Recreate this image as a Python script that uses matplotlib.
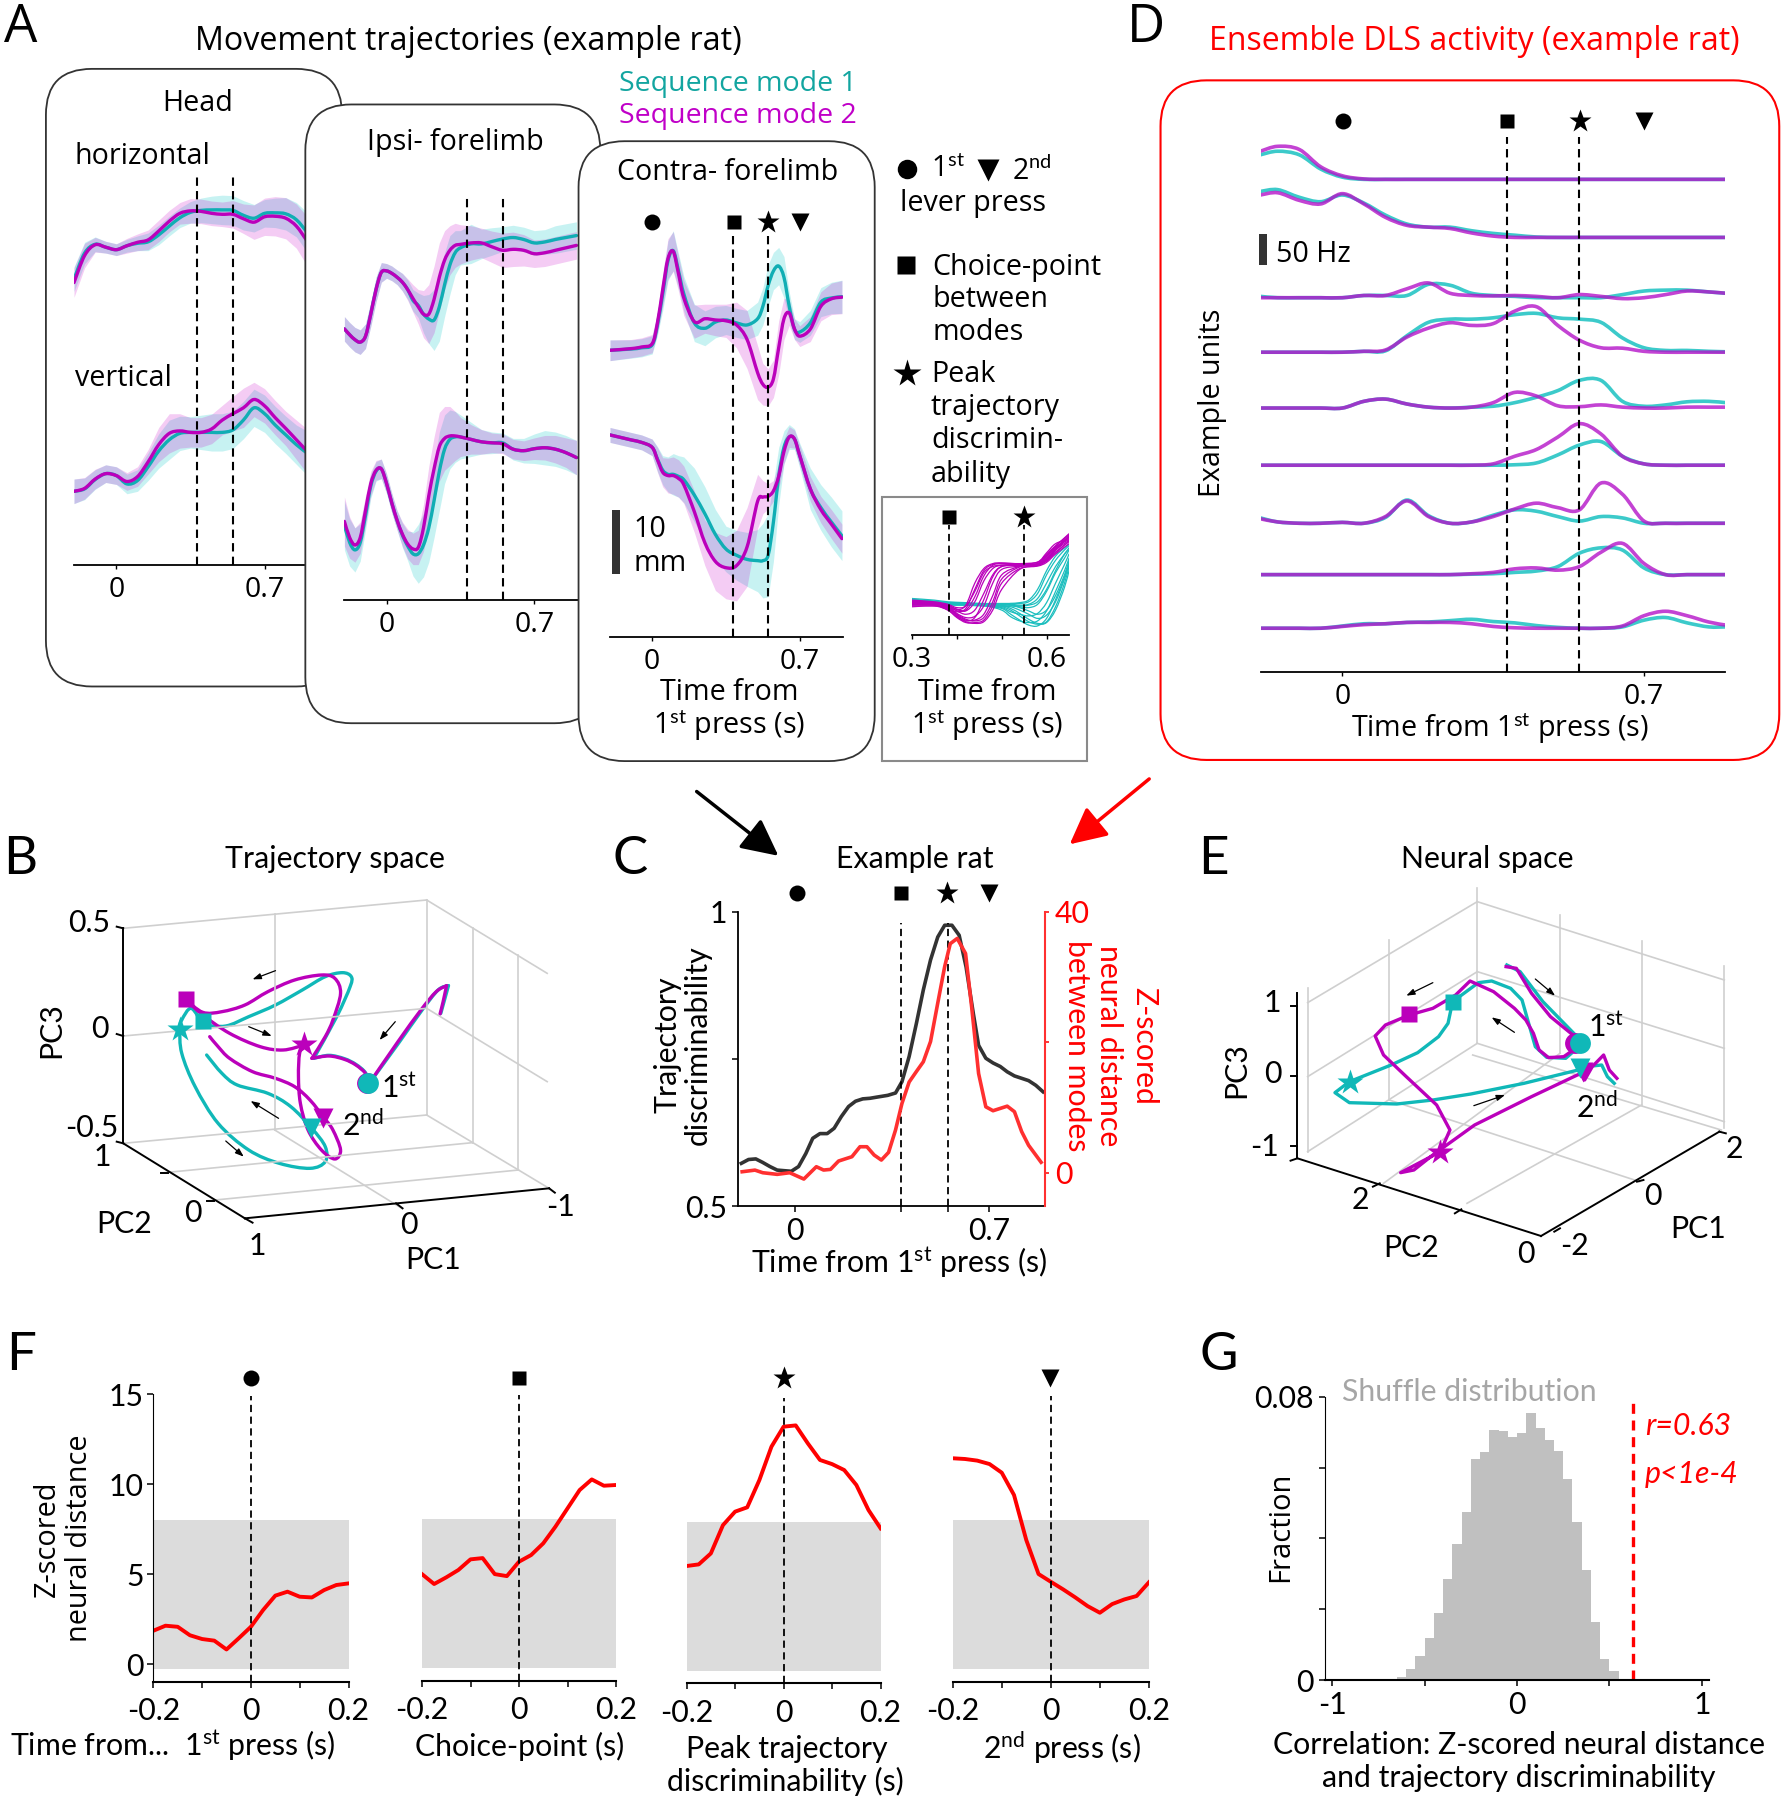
# multi-panel figure: trajectories, unit activity, discriminability
import matplotlib
matplotlib.use("Agg")
import numpy as np
import matplotlib.pyplot as plt
from matplotlib.patches import FancyBboxPatch, Rectangle, FancyArrowPatch, PathPatch
from matplotlib.path import Path

W, H = 1785, 1800
CYAN = '#10AEB4'
MAG = '#BB00BB'
BAND_C = '#00C8C8'
BAND_M = '#C800C8'

plt.rcParams['font.family'] = ['Lato', 'DejaVu Sans']
plt.rcParams['mathtext.fontset'] = 'custom'
plt.rcParams['mathtext.rm'] = 'Lato'
plt.rcParams['mathtext.it'] = 'Lato:italic'

# event times (s from 1st press)
press2_t = 0.7
choice_t = 0.383
peak_t = 0.55

# ---- panel A: movement traces, heights in arbitrary units above the axis
t_grid = [-0.2, -0.15, -0.1, -0.05, 0, 0.05, 0.1, 0.15, 0.2, 0.25, 0.3, 0.35, 0.4, 0.45, 0.5, 0.55, 0.6,
          0.65, 0.7, 0.75, 0.8, 0.85, 0.9]
head_h_m = [575, 630, 652, 647, 642, 650, 657, 662, 680, 700, 716, 721, 720, 716, 714, 714, 705, 698, 709, 710, 706, 690, 660]
head_h_c = [582, 635, 653, 647, 642, 650, 655, 658, 672, 690, 707, 718, 722, 723, 723, 722, 712, 706, 716, 717, 715, 703, 678]
head_h_sd_m = [30, 25, 15, 12, 12, 15, 17, 20, 22, 22, 22, 25, 25, 25, 25, 28, 30, 35, 38, 40, 42, 45, 50]
head_h_sd_c = [25, 22, 15, 12, 12, 13, 15, 18, 20, 20, 20, 22, 25, 28, 30, 30, 30, 28, 28, 30, 33, 35, 40]
head_v_m = [150, 156, 175, 186, 182, 170, 180, 210, 245, 268, 273, 270, 270, 277, 295, 308, 320, 337, 324, 300, 278, 255, 232]
head_v_c = [150, 155, 174, 186, 182, 165, 172, 200, 232, 255, 268, 270, 270, 270, 270, 275, 295, 320, 308, 285, 265, 245, 228]
head_v_sd_m = [25, 22, 20, 18, 18, 18, 20, 25, 35, 40, 35, 30, 30, 30, 30, 35, 40, 35, 35, 35, 35, 40, 45]
head_v_sd_c = [25, 22, 20, 18, 18, 20, 22, 28, 35, 40, 35, 32, 35, 38, 38, 38, 38, 38, 38, 38, 38, 40, 45]

t_ipsi = [-0.2, -0.175, -0.15, -0.125, -0.1, -0.075, -0.05, -0.025, 0, 0.025, 0.05, 0.075, 0.1, 0.125, 0.15, 0.175,
          0.2, 0.225, 0.25, 0.275, 0.3, 0.325, 0.35, 0.4, 0.45, 0.5, 0.55, 0.6, 0.65, 0.7, 0.75, 0.8, 0.85, 0.9]
ipsi_h_m = [552, 540, 530, 525, 537, 582, 632, 667, 670, 665, 657, 647, 632, 614, 597, 582, 582, 612, 657, 692, 712, 722, 724,
            727, 727, 719, 712, 714, 712, 705, 707, 712, 717, 722]
ipsi_h_c = [552, 540, 530, 525, 537, 582, 632, 667, 670, 665, 657, 647, 632, 610, 600, 582, 572, 570, 597, 642, 682, 707, 717,
            725, 725, 730, 735, 738, 734, 727, 729, 734, 738, 742]
ipsi_h_sd_m = [25, 25, 25, 25, 25, 25, 25, 20, 15, 15, 15, 18, 22, 28, 35, 48, 60, 68, 70, 60, 50, 45, 40,
               35, 30, 32, 35, 35, 32, 28, 28, 28, 28, 28]
ipsi_h_sd_c = [25, 25, 25, 25, 25, 25, 25, 20, 15, 15, 15, 18, 20, 22, 25, 38, 50, 62, 70, 65, 60, 45, 35,
               40, 30, 28, 25, 25, 25, 25, 25, 28, 28, 28]
ipsi_v_m = [160, 127, 112, 127, 182, 237, 264, 267, 237, 197, 162, 134, 114, 104, 107, 147, 212, 267, 312, 329, 334, 334, 332,
            327, 322, 320, 318, 307, 304, 308, 310, 307, 300, 290]
ipsi_v_c = [152, 117, 102, 117, 172, 232, 262, 267, 237, 197, 162, 132, 110, 94, 94, 112, 147, 202, 262, 307, 327, 332, 332,
            327, 322, 320, 320, 307, 304, 308, 310, 307, 300, 290]
ipsi_v_sd_m = [50, 42, 35, 32, 30, 25, 20, 20, 20, 20, 20, 25, 30, 32, 35, 48, 60, 65, 70, 65, 60, 50, 40,
               30, 25, 20, 20, 20, 20, 22, 25, 28, 30, 35]
ipsi_v_sd_c = [50, 48, 45, 38, 30, 25, 20, 20, 20, 20, 20, 25, 30, 45, 60, 65, 70, 75, 80, 70, 60, 52, 45,
               35, 25, 22, 20, 22, 25, 30, 35, 35, 35, 35]

t_contra = [-0.2, -0.1, -0.05, 0, 0.025, 0.05, 0.075, 0.1, 0.125, 0.15, 0.2, 0.25, 0.3, 0.35, 0.4, 0.45, 0.5,
            0.525, 0.55, 0.575, 0.6, 0.625, 0.65, 0.675, 0.7, 0.75, 0.8, 0.85, 0.9]
contra_h_m = [691, 695, 699, 707, 757, 837, 912, 929, 875, 817, 760, 767, 764, 762, 752, 717, 637, 609, 602, 622, 697, 767, 781, 742, 725, 742, 797, 815, 819]
contra_h_c = [691, 694, 697, 704, 752, 827, 907, 931, 882, 827, 757, 744, 759, 764, 757, 752, 767, 797, 847, 882, 894, 867, 797, 742, 735, 757, 807, 817, 820]
contra_h_sd_m = [25, 22, 22, 22, 25, 40, 48, 48, 42, 42, 40, 35, 38, 40, 55, 70, 65, 50, 45, 45, 65, 50, 30, 25, 25, 30, 35, 38, 40]
contra_h_sd_c = [25, 22, 22, 22, 25, 40, 48, 48, 42, 42, 45, 42, 38, 35, 35, 35, 40, 45, 50, 45, 45, 50, 35, 25, 25, 30, 35, 38, 40]
contra_v_m = [487, 475, 469, 457, 427, 397, 389, 389, 382, 367, 302, 227, 182, 167, 172, 217, 327, 337, 339, 352, 387, 447, 482, 477, 437, 357, 307, 272, 237]
contra_v_c = [487, 475, 469, 457, 429, 402, 392, 392, 387, 379, 342, 297, 247, 212, 197, 187, 184, 184, 197, 277, 387, 457, 482, 477, 437, 357, 312, 277, 244]
contra_v_sd_m = [18, 18, 18, 20, 30, 35, 42, 45, 45, 45, 50, 55, 70, 75, 85, 95, 65, 40, 30, 25, 30, 30, 25, 22, 25, 30, 32, 35, 35]
contra_v_sd_c = [18, 18, 18, 20, 30, 35, 42, 50, 50, 55, 65, 65, 60, 55, 60, 65, 75, 90, 100, 95, 70, 40, 30, 25, 30, 50, 55, 60, 60]

# inset: single trials around the choice point
t_trial_m = [0.30, 0.35, 0.38, 0.40, 0.42, 0.44, 0.46, 0.48, 0.50, 0.54, 0.58, 0.60, 0.62, 0.65]
trials_m = [
    [84, 80, 74, 66, 70, 105, 150, 165, 168, 170, 172, 190, 210, 238],
    [82, 78, 72, 62, 58, 80, 130, 160, 168, 168, 170, 185, 208, 235],
    [80, 78, 70, 58, 50, 60, 100, 145, 165, 168, 172, 188, 212, 230],
    [78, 76, 68, 52, 42, 45, 70, 125, 158, 166, 170, 182, 205, 228],
    [76, 74, 64, 48, 36, 36, 50, 95, 145, 165, 168, 180, 200, 225],
    [74, 72, 60, 42, 30, 30, 36, 70, 125, 160, 166, 175, 195, 220],
    [72, 72, 62, 56, 64, 110, 155, 170, 172, 172, 175, 195, 215, 242],
    [70, 70, 66, 60, 72, 125, 160, 172, 174, 172, 176, 198, 220, 232],
    [68, 70, 60, 44, 34, 42, 85, 140, 165, 170, 170, 178, 198, 226],
    [74, 74, 70, 62, 60, 92, 142, 168, 172, 168, 168, 180, 204, 236],
    [80, 76, 66, 50, 38, 34, 42, 80, 135, 164, 172, 192, 214, 244],
    [78, 74, 64, 46, 32, 28, 32, 60, 110, 158, 168, 184, 206, 240],
]
t_trial_c = [0.30, 0.35, 0.38, 0.42, 0.46, 0.50, 0.52, 0.54, 0.56, 0.58, 0.60, 0.62, 0.64, 0.65]
trials_c = [
    [88, 84, 80, 78, 76, 76, 76, 76, 80, 100, 145, 180, 205, 215],
    [86, 82, 78, 76, 74, 72, 74, 72, 74, 88, 125, 165, 195, 210],
    [84, 80, 78, 76, 74, 70, 70, 68, 66, 74, 105, 150, 185, 205],
    [82, 80, 78, 74, 72, 66, 56, 50, 46, 52, 78, 125, 170, 195],
    [80, 78, 76, 76, 72, 60, 44, 34, 30, 34, 58, 105, 155, 185],
    [78, 76, 74, 74, 70, 64, 50, 36, 24, 22, 40, 85, 140, 175],
    [76, 76, 76, 72, 70, 70, 64, 52, 38, 28, 32, 68, 125, 165],
    [74, 76, 74, 72, 72, 72, 72, 66, 58, 50, 60, 95, 145, 180],
    [72, 74, 72, 72, 74, 74, 76, 78, 84, 110, 155, 190, 210, 218],
    [76, 78, 76, 76, 74, 74, 72, 70, 72, 80, 110, 155, 195, 205],
    [80, 78, 76, 74, 72, 68, 60, 46, 32, 26, 30, 60, 115, 155],
    [84, 80, 76, 74, 72, 70, 68, 60, 50, 40, 48, 80, 135, 170],
]

# ---- panel D: example units, rate above each unit's own baseline
t_units = [-0.19, -0.15, -0.1, -0.05, 0, 0.05, 0.1, 0.15, 0.2, 0.25, 0.3, 0.35, 0.4, 0.45, 0.5, 0.55, 0.6,
           0.65, 0.7, 0.75, 0.8, 0.85, 0.89]
unit_base = [1103, 973, 838, 716, 591, 463, 333, 218, 98]
units_m = [
    [63, 74, 67, 28, 8, 1, 0, 0, 0, 0, 0, 0, 0, 0, 0, 0, 0, 0, 0, 0, 0, 0, 0],
    [95, 100, 83, 75, 98, 75, 45, 27, 23, 20, 10, 3, 0, 0, 0, 0, 0, 0, 0, 0, 0, 0, 0],
    [0, 0, 0, 0, 0, 5, 5, 20, 33, 10, 5, 4, 5, 3, 0, 7, 3, -2, 0, 7, 15, 13, 10],
    [0, 0, 0, 0, 0, 2, 5, 34, 54, 66, 60, 64, 92, 102, 60, 27, 10, 9, 2, 0, 0, 0, 0],
    [0, 0, 0, 0, 0, 15, 20, 9, 2, 0, 2, 12, 35, 27, 5, 3, 7, 2, 0, 0, 2, 2, 2],
    [0, 0, 0, 0, 0, 0, 0, 0, 0, 0, 0, 3, 20, 35, 63, 93, 70, 20, 3, 0, 0, 0, 0],
    [10, 3, 0, 0, 2, 0, 15, 50, 15, 0, 3, 15, 32, 45, 35, 30, 90, 65, 5, 0, 0, 0, 0],
    [0, 0, 0, 0, 0, 0, 0, 0, 0, 0, 2, 5, 13, 15, 10, 18, 50, 70, 25, 0, 0, 0, 0],
    [0, 0, 0, 0, 4, 8, 10, 13, 13, 13, 10, 4, 1, 0, 0, 0, 0, 5, 28, 38, 28, 14, 7],
]
units_c = [
    [55, 63, 55, 23, 5, 0, 0, 0, 0, 0, 0, 0, 0, 0, 0, 0, 0, 0, 0, 0, 0, 0, 0],
    [103, 107, 90, 80, 95, 77, 50, 30, 23, 23, 15, 9, 5, 1, 0, 0, 0, 0, 0, 0, 0, 0, 0],
    [3, 0, 0, 0, 0, 5, 5, 5, 30, 28, 10, 5, 3, 0, 0, 0, 0, 7, 15, 17, 17, 13, 10],
    [0, 0, 0, 0, 0, 2, 3, 37, 67, 74, 74, 77, 84, 87, 77, 74, 67, 32, 10, 4, 4, 2, 1],
    [0, 0, 0, 0, 0, 15, 20, 9, 2, 0, 2, 4, 12, 24, 39, 62, 62, 15, 4, 7, 14, 15, 12],
    [0, 0, 0, 0, 0, 0, 0, 0, 0, 0, 0, 0, 1, 5, 23, 45, 53, 20, 3, 0, 0, 0, 0],
    [12, 3, 0, 0, 2, 0, 13, 52, 17, 0, 3, 18, 30, 27, 15, 5, 15, 12, 0, 0, 0, 0, 0],
    [0, 0, 0, 0, 0, 0, 0, 0, 0, 0, 1, 2, 5, 8, 18, 48, 60, 55, 15, 0, 0, 0, 0],
    [0, 0, 0, 0, 5, 10, 10, 13, 14, 17, 20, 15, 12, 6, 2, 0, 0, 3, 18, 24, 12, 3, 3],
]

# ---- panel C
t_disc = [-0.193, -0.167, -0.141, -0.116, -0.09, -0.064, -0.039, -0.013, 0.013, 0.039, 0.064, 0.09, 0.116, 0.141,
          0.167, 0.193, 0.218, 0.244, 0.27, 0.295, 0.334, 0.362, 0.385, 0.411, 0.437, 0.462, 0.488, 0.514, 0.539,
          0.565, 0.591, 0.616, 0.642, 0.661, 0.687, 0.713, 0.739, 0.764, 0.79, 0.841, 0.867, 0.893]
discrim = [0.5725, 0.579, 0.58, 0.574, 0.567, 0.561, 0.56, 0.559, 0.567, 0.589, 0.615, 0.623, 0.623, 0.632, 0.652,
           0.669, 0.678, 0.682, 0.683, 0.685, 0.688, 0.692, 0.711, 0.754, 0.81, 0.867, 0.918, 0.957, 0.977, 0.977,
           0.96, 0.906, 0.827, 0.773, 0.751, 0.743, 0.737, 0.728, 0.721, 0.713, 0.705, 0.694]
t_neural = [-0.19, -0.144, -0.116, -0.064, -0.019, 0.032, 0.077, 0.103, 0.128, 0.157, 0.205, 0.234, 0.259, 0.285,
            0.311, 0.337, 0.362, 0.385, 0.411, 0.437, 0.462, 0.488, 0.514, 0.539, 0.559, 0.584, 0.614, 0.636, 0.661,
            0.687, 0.713, 0.764, 0.79, 0.816, 0.841, 0.867, 0.886]
neural_dist = [0.15, 0.4, 0, -0.25, 0, -0.97, 0.92, 0.41, 0.51, 1.79, 2.45, 3.98, 3.98, 2.71, 1.94, 3.12, 6.54, 10.6,
               13.9, 15.5, 17, 20.1, 26, 31.6, 35.1, 35.9, 33.6, 25.4, 15.2, 10.1, 9.5, 10.2, 9.35, 6.3, 4.2, 2.7, 1.6]

# ---- panel F
t_f = [-0.2, -0.175, -0.15, -0.125, -0.1, -0.075, -0.05, -0.025, 0, 0.025, 0.05, 0.075, 0.1, 0.125, 0.15, 0.175, 0.2]
f_first = [1.85, 2.13, 2.07, 1.6, 1.39, 1.3, 0.81, 1.43, 2.07, 3.0, 3.8, 4.02, 3.74, 3.7, 4.11, 4.39, 4.48]
f_choice = [4.94, 4.39, 4.76, 5.17, 5.76, 5.83, 4.94, 4.83, 5.63, 6.0, 6.65, 7.57, 8.59, 9.61, 10.2, 9.85, 9.89]
f_peak = [5.54, 5.63, 6.24, 7.81, 8.56, 8.8, 10.31, 12.17, 13.28, 13.35, 12.35, 11.43, 11.2, 10.87, 10.04, 8.65, 7.63]
f_second = [11.43, 11.39, 11.3, 11.11, 10.63, 9.39, 6.89, 5.0, 4.57, 4.15, 3.7, 3.22, 2.85, 3.33, 3.59, 3.78, 4.54]
f_band = [-0.27, 8.0]

# ---- panel G
shuffle_bins = [-0.625, -0.575, -0.525, -0.475, -0.425, -0.375, -0.325, -0.275, -0.225, -0.175, -0.125, -0.075,
                -0.025, 0.025, 0.075, 0.125, 0.175, 0.225, 0.275, 0.325, 0.375, 0.425, 0.475, 0.525]
shuffle_frac = [0.0009, 0.003, 0.0068, 0.0118, 0.019, 0.0285, 0.0383, 0.0475, 0.0623, 0.0644, 0.0706, 0.0704, 0.0685,
                0.0698, 0.0753, 0.0713, 0.0678, 0.0646, 0.0567, 0.0445, 0.0311, 0.0165, 0.0059, 0.0025]
r_value = 0.63

# ---- panels B and E: 3-D views kept as their flat projection, in picture units
b_wires = [(322, 325, 1115, 240), (1115, 240, 1430, 460), (1115, 240, 1115, 885), (322, 648, 1115, 565),
           (1115, 565, 1430, 785), (322, 970, 1115, 885), (1115, 885, 1435, 1105), (718, 283, 718, 930),
           (1235, 325, 1235, 968), (1355, 405, 1355, 1050), (718, 930, 1050, 1165), (430, 1058, 1235, 968),
           (545, 1142, 1355, 1050)]
b_axes = [(322, 325, 322, 970), (322, 970, 640, 1195), (640, 1195, 1435, 1105), (305, 320, 322, 325),
          (305, 642, 322, 648), (305, 965, 322, 970), (420, 1058, 440, 1058), (540, 1142, 560, 1142),
          (640, 1195, 660, 1208), (1035, 1150, 1052, 1165), (1435, 1105, 1450, 1118)]
b_m_x = [1150, 1158, 1167, 1140, 1100, 1040, 965, 955, 930, 900, 860, 815, 850, 870, 890, 875, 840, 770, 700, 640, 580,
         530, 485, 530, 600, 680, 740, 795, 783, 780, 785, 805, 840, 875, 890, 870, 848, 810, 770, 720, 660, 600, 570, 548]
b_m_y = [582, 545, 497, 515, 570, 665, 790, 760, 735, 718, 708, 715, 650, 600, 520, 475, 465, 480, 515, 555, 575,
         577, 538, 585, 640, 680, 690, 675, 700, 770, 850, 930, 990, 1017, 990, 930, 895, 840, 800, 775, 755, 715, 680, 650]
b_m_breaks = [2, 6, 11, 22, 27]
b_c_x = [1152, 1172, 1145, 1100, 1040, 965, 955, 930, 900, 860, 820, 880, 915, 918, 895, 850, 790, 720, 650, 590, 530,
         500, 475, 470, 475, 510, 570, 650, 730, 810, 850, 850, 815, 760, 700, 620, 580, 540]
b_c_y = [580, 497, 510, 575, 672, 790, 758, 733, 716, 706, 715, 590, 500, 470, 458, 470, 510, 555, 590, 618, 615,
         565, 600, 628, 700, 800, 910, 990, 1030, 1045, 1025, 980, 925, 860, 820, 795, 760, 705]
b_c_breaks = [1, 5, 10, 20]
b_events_m = [(958, 788), (485, 537), (795, 672), (845, 895)]
b_events_c = [(963, 788), (530, 602), (470, 628), (813, 925)]
b_arrows = [(720, 452, 660, 478), (650, 620, 710, 648), (1033, 605, 992, 660), (728, 895, 655, 843), (590, 963, 637, 1010)]

e_wires = [(310, 548, 757, 245), (757, 245, 1408, 480), (310, 770, 757, 455), (757, 455, 1408, 685), (310, 995, 757, 670),
           (757, 670, 1408, 905), (757, 205, 757, 670), (975, 285, 975, 700), (1190, 362, 1190, 855), (1408, 438, 1408, 925),
           (525, 360, 525, 840), (310, 505, 310, 995), (510, 1090, 975, 700), (730, 1150, 1190, 855),
           (525, 840, 1185, 1085), (745, 705, 1400, 930)]
e_axes = [(283, 520, 283, 1015), (283, 1015, 925, 1248), (925, 1248, 1395, 935), (265, 558, 283, 558), (265, 768, 283, 768),
          (265, 978, 283, 978), (265, 1022, 283, 1015), (482, 1100, 500, 1090), (698, 1180, 715, 1168),
          (960, 1235, 975, 1225), (1178, 1085, 1195, 1080), (1395, 935, 1412, 940)]
e_m_x = [833, 860, 900, 950, 1020, 1010, 985, 945, 920, 905, 885, 855, 800, 738, 700, 640, 578, 515, 488, 510, 570, 650,
         685, 660, 610, 555, 590, 640, 750, 900, 1030, 1040, 1060, 1090, 1105, 1125]
e_m_y = [440, 445, 520, 590, 655, 690, 710, 713, 690, 640, 600, 565, 515, 483, 525, 565, 585, 615, 648, 705, 770, 855,
         930, 995, 1025, 1058, 1050, 1005, 915, 830, 760, 780, 740, 705, 750, 775]
e_c_x = [835, 870, 930, 1020, 1025, 990, 940, 910, 890, 875, 845, 795, 760, 692, 680, 655, 600, 530, 420, 382, 420, 545,
         640, 740, 880, 1030, 1060, 1085, 1100, 1118]
e_c_y = [435, 455, 545, 650, 680, 715, 712, 680, 600, 540, 505, 483, 488, 545, 610, 650, 698, 735, 785, 818, 848, 852,
         840, 822, 790, 748, 738, 735, 770, 790]
e_events_m = [(1015, 668), (578, 583), (658, 997), (1035, 755)]
e_events_c = [(1027, 668), (692, 546), (422, 785), (1027, 745)]
e_arrows = [(640, 488, 570, 527), (855, 637, 795, 592), (910, 477, 962, 527), (748, 857, 830, 825)]


fig = plt.figure(figsize=(W / 100, H / 100), dpi=100, facecolor='white')


def px_axes(x0, y0, x1, y1, z=5):
    ax = fig.add_axes([x0 / W, 1 - y1 / H, (x1 - x0) / W, (y1 - y0) / H], zorder=z)
    ax.patch.set_visible(False)
    for s in ['top', 'right']:
        ax.spines[s].set_visible(False)
    return ax


def overlay(z):
    # sheet in the coordinates of the shrunk reference, for boxes and labels
    ax = fig.add_axes([0, 0, 1, 1], zorder=z)
    ax.set_xlim(0, 1555)
    ax.set_ylim(1568, 0)
    ax.axis('off')
    return ax


def box(ax, x0, y0, x1, y1, ec='#333333', lw=1.3, r=40):
    ax.add_patch(FancyBboxPatch((x0, y0), x1 - x0, y1 - y0, boxstyle='round,pad=0,rounding_size=%d' % r,
                                fc='white', ec=ec, lw=lw))


def label(ax, x, y, s, size=20.6, family='Open Sans', ha='center', **kw):
    ax.text(x, y + 2, s, fontsize=size, family=[family, 'DejaVu Sans'], ha=ha, va='center', **kw)


def events(ax, xs, y, which='osv*', size=1.0):
    for x, m in zip(xs, which):
        ms = {'o': 11.5, 's': 10.5, '*': 17, 'v': 13}[m] * size
        ax.plot([x], [y], marker=m, ms=ms, color='black', mec='none', clip_on=False)


def smooth_line(ax, x, y, color, lw, breaks=(), alpha=None):
    # curved segments through the read points; breaks keep the sharp corners
    pts = np.column_stack([x, y]).astype(float)
    edges = [0] + list(breaks) + [len(pts) - 1]
    for a, b in zip(edges[:-1], edges[1:]):
        part = pts[a:b + 1]
        verts = [part[0]]
        codes = [Path.MOVETO]
        for i in range(len(part) - 1):
            p0 = part[max(i - 1, 0)]
            p1 = part[i]
            p2 = part[i + 1]
            p3 = part[min(i + 2, len(part) - 1)]
            verts += [p1 + (p2 - p0) / 6, p2 - (p3 - p1) / 6, p2]
            codes += [Path.CURVE4] * 3
        ax.add_patch(PathPatch(Path(verts, codes), fc='none', ec=color, lw=lw, alpha=alpha, capstyle='round',
                               joinstyle='round'))


def traces(ax, t, y_c, sd_c, y_m, sd_m):
    ax.fill_between(t, [a - b for a, b in zip(y_c, sd_c)], [a + b for a, b in zip(y_c, sd_c)],
                    color=BAND_C, alpha=0.22, lw=0)
    ax.fill_between(t, [a - b for a, b in zip(y_m, sd_m)], [a + b for a, b in zip(y_m, sd_m)],
                    color=BAND_M, alpha=0.2, lw=0)
    smooth_line(ax, t, y_c, CYAN, 2.4)
    smooth_line(ax, t, y_m, MAG, 2.4)


def dashes(ax, xs, y0, y1, lw=1.5):
    for x in xs:
        ax.plot([x, x], [y0, y1], color='black', lw=lw, ls=(0, (4, 2.5)), zorder=6, clip_on=False)


def time_axis(ax, left, right, ticks, labels, size=20.5, family='Open Sans', pad=5):
    ax.set_xlim(left, right)
    ax.set_xticks(ticks)
    ax.set_xticklabels(labels)
    ax.set_yticks([])
    ax.spines['left'].set_visible(False)
    ax.spines['bottom'].set_linewidth(1.3)
    ax.tick_params(axis='x', length=3, width=1, labelsize=size, pad=pad, labelfontfamily=family)


# ---- A: three overlapping cards
o = overlay(1)
box(o, 40, 60, 298, 598)
label(o, 172, 88, 'Head')
label(o, 65, 134, 'horizontal', ha='left')
label(o, 65, 328, 'vertical', ha='left')

UA = 2.036   # trace units per pixel in the first two cards
ax = px_axes(74, 150, 308, 565, 2)
traces(ax, t_grid, head_h_c, head_h_sd_c, head_h_m, head_h_sd_m)
traces(ax, t_grid, head_v_c, head_v_sd_c, head_v_m, head_v_sd_m)
dashes(ax, [choice_t, peak_t], 0, 795)
ax.set_ylim(0, 415 * UA)
time_axis(ax, -0.2, 0.905, [0, 0.7], ['0', '0.7'])

o = overlay(3)
box(o, 266, 91, 523, 630)
label(o, 397, 122, 'Ipsi- forelimb')
ax = px_axes(344.4, 180, 577.5, 600, 4)
traces(ax, t_ipsi, ipsi_h_c, ipsi_h_sd_c, ipsi_h_m, ipsi_h_sd_m)
traces(ax, t_ipsi, ipsi_v_c, ipsi_v_sd_c, ipsi_v_m, ipsi_v_sd_m)
dashes(ax, [choice_t, peak_t], 0, 822)
ax.set_ylim(0, 420 * UA)
time_axis(ax, -0.2, 0.905, [0, 0.7], ['0', '0.7'])

o = overlay(5)
box(o, 504, 123, 762, 663)
label(o, 634, 148, 'Contra- forelimb')
ax = px_axes(610, 230, 843, 637, 6)
traces(ax, t_contra, contra_h_c, contra_h_sd_c, contra_h_m, contra_h_sd_m)
traces(ax, t_contra, contra_v_c, contra_v_sd_c, contra_v_m, contra_v_sd_m)
dashes(ax, [choice_t, peak_t], 0, 967)
ax.set_ylim(0, 407 * 2.41)
time_axis(ax, -0.2, 0.905, [0, 0.7], ['0', '0.7'])

# everything written over the cards
o = overlay(8)
label(o, 18, 23, 'A', 38)
label(o, 998, 23, 'D', 38)
label(o, 408, 34, 'Movement trajectories (example rat)', 23.2)
label(o, 1284, 34, 'Ensemble DLS activity (example rat)', 23, color='#FF0000')
label(o, 643, 71, 'Sequence mode 1', 20.5, color='#12A5A0')
label(o, 643, 99, 'Sequence mode 2', 20.5, color='#C000C8')
events(o, [568, 639, 669, 697], 193, 'os*v')
o.add_patch(Rectangle((533, 444), 7, 56, fc='#333333', ec='none'))
label(o, 552, 459, '10', ha='left')
label(o, 552, 489, 'mm', ha='left')
label(o, 635, 601, 'Time from')
label(o, 635, 630, r'1$^{\mathrm{st}}$ press (s)')
events(o, [790], 147, 'o', 1.22)
label(o, 811, 146, r'1$^{\mathrm{st}}$', ha='left')
events(o, [861], 148, 'v', 1.22)
label(o, 882, 148, r'2$^{\mathrm{nd}}$', ha='left')
label(o, 784, 175, 'lever press', ha='left')
events(o, [789], 231, 's', 1.22)
for yy, s in zip([231, 259, 288], ['Choice-point', 'between', 'modes']):
    label(o, 812, yy, s, ha='left')
events(o, [790], 325, '*', 1.22)
for yy, s in zip([324, 353, 382, 411], ['Peak', 'trajectory', 'discrimin-', 'ability']):
    label(o, 811, yy, s, ha='left')

# inset
o.add_patch(Rectangle((768, 433), 179, 230, fc='white', ec='#8A8A8A', lw=1.5))
ax = px_axes(912, 520, 1069, 635, 9)
for tr in trials_c:
    smooth_line(ax, t_trial_c, tr, '#1CBEBE', 0.9)
for tr in trials_m:
    smooth_line(ax, t_trial_m, tr, MAG, 0.9)
dashes(ax, [choice_t, peak_t], 0, 265, lw=1.3)
ax.set_ylim(0, 115 * 2.41)
time_axis(ax, 0.3, 0.65, [0.3, 0.4, 0.5, 0.6], ['0.3', '', '', '0.6'], pad=5)
o2 = overlay(10)
events(o2, [827, 892], 450, 's*')
label(o2, 860, 601, 'Time from')
label(o2, 860, 630, r'1$^{\mathrm{st}}$ press (s)')

# ---- D
o = overlay(11)
box(o, 1011, 70, 1550, 662, ec='#FF0000', lw=1.5)
ax = px_axes(1261.3, 128, 1725, 672, 12)
for base, c in zip(unit_base, units_c):
    smooth_line(ax, t_units, [base + v for v in c], '#3CCACA', 2.6)
for base, m in zip(unit_base, units_m):
    smooth_line(ax, t_units, [base + v for v in m], '#B414C8', 2.6, alpha=0.8)
dashes(ax, [choice_t, peak_t], 0, 1198)
ax.set_ylim(0, 1218)
time_axis(ax, -0.188, 0.888, [0, 0.7], ['0', '0.7'])
o = overlay(13)
events(o, [1170, 1313, 1376, 1432], 105, 'os*v')
o.add_patch(Rectangle((1097, 204), 7, 27, fc='#333333', ec='none'))
label(o, 1112, 220, '50 Hz', ha='left')
label(o, 1056, 349, 'Example units', rotation=90)
label(o, 1307, 632, r'Time from 1$^{\mathrm{st}}$ press (s)')

# big arrows into C
o.add_patch(FancyArrowPatch((605, 688), (680, 747), arrowstyle='-|>,head_length=0.7,head_width=0.35',
                            mutation_scale=32, color='black', lw=2.5))
o.add_patch(FancyArrowPatch((1003, 677), (930, 737), arrowstyle='-|>,head_length=0.7,head_width=0.35',
                            mutation_scale=32, color='#FF0000', lw=2.5))


# ---- B and E, flat projections
def flat_panel(x0, y0, w, h, wires, axes_segs, ev_m, ev_c, arrows):
    ax = px_axes(x0, y0, x0 + w, y0 + h, 14)
    ax.axis('off')
    ax.set_xlim(0, 1568)
    ax.set_ylim(1410, 0)
    for a, b, c, d in wires:
        ax.plot([a, c], [b, d], color='#CFCFCF', lw=1.2)
    for a, b, c, d in axes_segs:
        ax.plot([a, c], [b, d], color='black', lw=1.4)
    for pts, col in [(ev_m, MAG), (ev_c, '#10B8B8')]:
        for (px, py), m in zip(pts, 'os*v'):
            size = {'o': 15, 's': 12, '*': 19, 'v': 15}[m]
            ax.plot([px], [py], marker=m, ms=size, color=col, mec='none', zorder=4)
    for a, b, c, d in arrows:
        ax.annotate('', xy=(c, d), xytext=(a, b), arrowprops=dict(arrowstyle='-|>,head_length=0.5,head_width=0.18',
                                                                  color='black', lw=0.9, shrinkA=0, shrinkB=0))
    return ax


ax = flat_panel(0, 820, 600, 470, b_wires, b_axes, b_events_m, b_events_c, b_arrows)
smooth_line(ax, b_c_x, b_c_y, '#10B8B8', 2.4, breaks=b_c_breaks)
smooth_line(ax, b_m_x, b_m_y, MAG, 2.4, breaks=b_m_breaks)
ax = flat_panel(1190, 820, 595, 470, e_wires, e_axes, e_events_m, e_events_c, e_arrows)
ax.plot(e_c_x, e_c_y, color='#10B8B8', lw=2.4, solid_joinstyle='round')
ax.plot(e_m_x, e_m_y, color=MAG, lw=2.4, solid_joinstyle='round')

o = overlay(15)
SZ = 21.8
label(o, 18, 747, 'B', 38, family='Lato')
label(o, 549, 747, 'C', 38, family='Lato')
label(o, 1057, 747, 'E', 38, family='Lato')
label(o, 18, 1179, 'F', 38, family='Lato')
label(o, 1062, 1179, 'G', 38, family='Lato')
label(o, 292, 746, 'Trajectory space', SZ, family='Lato')
label(o, 797, 746, 'Example rat', SZ, family='Lato')
label(o, 1296, 746, 'Neural space', SZ, family='Lato')
for x, y, s in [(78, 803, '0.5'), (87, 895, '0'), (80, 982, '-0.5'), (89, 1007, '1'), (168, 1056, '0'), (108, 1065, 'PC2'),
                (224, 1084, '1'), (356, 1066, '0'), (488, 1050, '-1'), (377, 1097, 'PC1'),
                (1108, 873, '1'), (1109, 935, '0'), (1102, 998, '-1'), (1185, 1044, '2'), (1229, 1086, 'PC2'),
                (1329, 1091, '0'), (1372, 1084, '-2'), (1440, 1041, '0'), (1479, 1070, 'PC1'), (1511, 1000, '2')]:
    label(o, x, y - 1, s, SZ, family='Lato')
label(o, 45, 895, 'PC3', SZ, family='Lato', rotation=90)
label(o, 1077, 930, 'PC3', SZ, family='Lato', rotation=90)
label(o, 348, 946, r'1$^{\mathrm{st}}$', SZ, family='Lato')
label(o, 316, 978, r'2$^{\mathrm{nd}}$', SZ, family='Lato')
label(o, 1399, 893, r'1$^{\mathrm{st}}$', SZ, family='Lato')
label(o, 1391, 963, r'2$^{\mathrm{nd}}$', SZ, family='Lato')

# ---- C
ax = px_axes(738, 911.7, 1045, 1206, 16)
ax.plot(t_disc, discrim, color='#333333', lw=2.6)
dashes(ax, [choice_t, peak_t], 0.5, 0.98, lw=1.3)
ax.set_xlim(-0.205, 0.9)
ax.set_ylim(0.5, 1)
ax.set_xticks([0, choice_t, peak_t, 0.7])
ax.set_xticklabels(['0', '', '', '0.7'])
ax.set_yticks([0.5, 0.75, 1])
ax.set_yticklabels(['0.5', '', '1'])
ax.tick_params(length=4, width=1.1, labelsize=SZ, pad=4, labelfontfamily='Lato')
ax.spines['left'].set_linewidth(1.3)
ax.spines['bottom'].set_linewidth(1.3)

ax2 = ax.twinx()
ax2.patch.set_visible(False)
ax2.spines['top'].set_visible(False)
ax2.spines['left'].set_visible(False)
ax2.spines['bottom'].set_visible(False)
ax2.spines['right'].set_color('#FF3030')
ax2.spines['right'].set_linewidth(1.5)
ax2.plot(t_neural, neural_dist, color='#FF3030', lw=2.6)
ax2.set_ylim(-5.1, 40)
ax2.set_yticks([0, 20, 40])
ax2.set_yticklabels(['0', '', '40'])
ax2.tick_params(length=3, width=1.1, labelsize=SZ, pad=4, colors='#FF0000', labelfontfamily='Lato')

o = overlay(17)
events(o, [694, 785, 825, 862], 778, 'os*v')
label(o, 595, 908, 'Trajectory\ndiscriminability', SZ, family='Lato', rotation=90, linespacing=1.1, multialignment='center')
label(o, 783, 1098, r'Time from 1$^{\mathrm{st}}$ press (s)', SZ, family='Lato')
for x, s in [(997, 'Z-scored'), (966, 'neural distance'), (938, 'between modes')]:
    label(o, x, 909, s, SZ, family='Lato', rotation=270, color='#FF0000')

# ---- F
f_axes = [(153.3, 348.5, 0, f_first), (422, 616, -1, f_choice), (686.6, 880.6, 1.7, f_peak), (952.7, 1148.9, 0, f_second)]
for i, (x0, x1, dy, vals) in enumerate(f_axes):
    ax = px_axes(x0, 1394 + dy, x1, 1681.7 + dy, 18)
    ax.axhspan(f_band[0], f_band[1], color='#DCDCDC', lw=0)
    ax.plot(t_f, vals, color='#FF0000', lw=2.8)
    dashes(ax, [0], -0.98, 14.9, lw=1.3)
    ax.set_xlim(-0.2, 0.2)
    ax.set_ylim(-0.98, 15)
    ax.set_xticks([-0.2, -0.1, 0, 0.1, 0.2])
    ax.set_xticklabels(['-0.2', '', '0', '', '0.2'])
    ax.tick_params(axis='x', length=4, width=1.1, labelsize=SZ, pad=7, labelfontfamily='Lato')
    ax.spines['bottom'].set_linewidth(1.5)
    if i == 0:
        ax.set_yticks([0, 5, 10, 15])
        ax.tick_params(axis='y', length=4, width=1.1, labelsize=SZ, pad=3, labelfontfamily='Lato')
    else:
        ax.set_yticks([])
        ax.spines['left'].set_visible(False)

o = overlay(19)
events(o, [219, 452, 683, 915], 1200, 'os*v')
label(o, 55, 1338, 'Z-scored\nneural distance', 20.8, family='Open Sans', rotation=90, linespacing=1.15, multialignment='center')
label(o, 150, 1519, r'Time from...  1$^{\mathrm{st}}$ press (s)', SZ, family='Lato')
label(o, 453, 1519, 'Choice-point (s)', SZ, family='Lato')
label(o, 685, 1522, 'Peak trajectory', SZ, family='Lato')
label(o, 684, 1550, 'discriminability (s)', SZ, family='Lato')
label(o, 925, 1521, r'2$^{\mathrm{nd}}$ press (s)', SZ, family='Lato')

# ---- G
ax = px_axes(1324.9, 1396.7, 1709.2, 1680, 20)
ax.bar(shuffle_bins, shuffle_frac, width=0.05, color='#C0C0C0', lw=0)
ax.plot([r_value, r_value], [0, 0.08], color='#FF0000', lw=2.4, ls=(0, (3, 2)))
ax.set_xlim(-1.04, 1.04)
ax.set_ylim(0, 0.08)
ax.set_xticks([-1, -0.5, 0, 0.5, 1])
ax.set_xticklabels(['-1', '', '0', '', '1'])
ax.set_yticks([0, 0.02, 0.04, 0.06, 0.08])
ax.set_yticklabels(['0', '', '', '', '0.08'])
ax.tick_params(length=4, width=1.1, labelsize=SZ, pad=4, labelfontfamily='Lato')
ax.spines['bottom'].set_linewidth(1.5)

o = overlay(21)
label(o, 1280, 1211, 'Shuffle distribution', SZ, family='Lato', color='#A6A6A6')
label(o, 1471, 1240, 'r=0.63', SZ, family='Lato', color='#FF0000', style='italic')
label(o, 1474, 1282, 'p<1e-4', SZ, family='Lato', color='#FF0000', style='italic')
label(o, 1116, 1328, 'Fraction', 21, family='Open Sans', rotation=90)
label(o, 1323, 1518, 'Correlation: Z-scored neural distance', SZ, family='Lato')
label(o, 1323, 1547, 'and trajectory discriminability', SZ, family='Lato')

fig.savefig('out.png', dpi=100)
